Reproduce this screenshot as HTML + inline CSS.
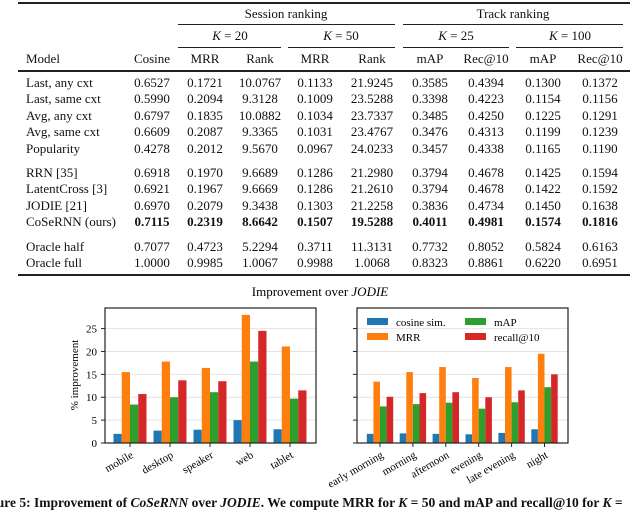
<!DOCTYPE html>
<html><head><meta charset="utf-8"><style>
body{margin:0;width:640px;height:510px;overflow:hidden;background:#fff;font-family:"Liberation Serif",serif;color:#111;position:relative}
.t{position:absolute;font-size:13px;white-space:nowrap;transform:translateX(-50%)}
.l{position:absolute;font-size:13px;white-space:nowrap}
.r{position:absolute;background:#222}
b{font-weight:bold}
</style></head><body>
<div id="tbl"></div>
<svg id="ch" width="640" height="510" style="position:absolute;left:0;top:0"></svg>
<div class="l" style="left:-22px;top:495px;font-weight:bold;font-size:13.5px">Figure 5: Improvement of <i>CoSeRNN</i> over <i>JODIE</i>. We compute MRR for <i>K</i> = 50 and mAP and recall@10 for <i>K</i> =</div>
<script>
const rows=[
["Last, any cxt","0.6527","0.1721","10.0767","0.1133","21.9245","0.3585","0.4394","0.1300","0.1372"],
["Last, same cxt","0.5990","0.2094","9.3128","0.1009","23.5288","0.3398","0.4223","0.1154","0.1156"],
["Avg, any cxt","0.6797","0.1835","10.0882","0.1034","23.7337","0.3485","0.4250","0.1225","0.1291"],
["Avg, same cxt","0.6609","0.2087","9.3365","0.1031","23.4767","0.3476","0.4313","0.1199","0.1239"],
["Popularity","0.4278","0.2012","9.5670","0.0967","24.0233","0.3457","0.4338","0.1165","0.1190"],
["RRN [35]","0.6918","0.1970","9.6689","0.1286","21.2980","0.3794","0.4678","0.1425","0.1594"],
["LatentCross [3]","0.6921","0.1967","9.6669","0.1286","21.2610","0.3794","0.4678","0.1422","0.1592"],
["JODIE [21]","0.6970","0.2079","9.3438","0.1303","21.2258","0.3836","0.4734","0.1450","0.1638"],
["CoSeRNN (ours)","0.7115","0.2319","8.6642","0.1507","19.5288","0.4011","0.4981","0.1574","0.1816"],
["Oracle half","0.7077","0.4723","5.2294","0.3711","11.3131","0.7732","0.8052","0.5824","0.6163"],
["Oracle full","1.0000","0.9985","1.0067","0.9988","1.0068","0.8323","0.8861","0.6220","0.6951"]];
const rowY=[83,99,116,132,149,173,189,206,222,247,263];
const colX=[26,152,205,260,315,372,430,486,543,600];
let h='';
function rule(x1,x2,y,t){h+=`<div class="r" style="left:${x1}px;width:${x2-x1}px;top:${y}px;height:${t}px"></div>`;}
rule(18,630,2,1.5);rule(178,395,24,1);rule(403,623,24,1);
rule(178,281,47,1);rule(288,395,47,1);rule(403,509,47,1);rule(516,623,47,1);
rule(18,630,70,1.5);rule(18,630,274,1.5);
function c(x,y,s,cls,n){h+=`<div class="${cls}" style="left:${x}px;top:${y-8}px">${s}</div>`;}
c(286,14,"Session ranking","t","session-ranking-header");c(513,14,"Track ranking","t","track-ranking-header");
c(230,36,"<i>K</i> = 20","t","k20-header");c(341,36,"<i>K</i> = 50","t","k50-header");c(456,36,"<i>K</i> = 25","t","k25-header");c(570,36,"<i>K</i> = 100","t","k100-header");
const hd=["Model","Cosine","MRR","Rank","MRR","Rank","mAP","Rec@10","mAP","Rec@10"];
hd.forEach((s,i)=>c(colX[i],59,s,i?"t":"l","column-header"));
rows.forEach((r,j)=>r.forEach((s,i)=>c(colX[i],rowY[j],j==8&&i?"<b>"+s+"</b>":s,i?"t":"l","table-cell")));
document.getElementById('tbl').innerHTML=h;
</script>
<script>
const colors=["#1f77b4","#ff7f0e","#2ca02c","#d62728"];
const seriesNames=["cosine sim.","MRR","mAP","recall@10"];
const devices=["mobile","desktop","speaker","web","tablet"];
const devCos=[2.0,2.7,2.9,5.0,3.0];
const devMRR=[15.5,17.8,16.4,28.0,21.1];
const devMAP=[8.4,10.0,11.1,17.8,9.7];
const devRec=[10.7,13.7,13.5,24.5,11.5];
const times=["early morning","morning","afternoon","evening","late evening","night"];
const timeCos=[2.0,2.1,2.0,1.9,2.2,3.0];
const timeMRR=[13.4,15.5,16.6,14.2,16.6,19.5];
const timeMAP=[8.0,8.5,8.8,7.5,8.9,12.2];
const timeRec=[10.1,10.9,11.1,10.0,11.5,15.0];
const yTicks=[0,5,10,15,20,25];
const svg=document.getElementById('ch');const NS="http://www.w3.org/2000/svg";
function el(t,a,name,txt){const e=document.createElementNS(NS,t);for(const k in a)e.setAttribute(k,a[k]);


if(txt!==undefined)e.textContent=txt;svg.appendChild(e);return e;}
const y0=443,yTop=308,yMax=29.5;
const ys=v=>y0-v*(y0-yTop)/yMax;
function panel(x1,x2,cats,series,first,spacing,bw,label){
  yTicks.forEach(t=>{if(t>0)el('line',{x1:x1,x2:x2,y1:ys(t),y2:ys(t),stroke:'#e4e4e4','stroke-width':1},'grid-line');
    el('line',{x1:x1-4,x2:x1,y1:ys(t),y2:ys(t),stroke:'#222'},'y-tick');
    if(label)el('text',{x:x1-8,y:ys(t)+4,'text-anchor':'end','font-size':11,'font-family':'Liberation Serif'},'y-tick-label',t);});
  cats.forEach((c,i)=>{const cx=first+i*spacing;
    series.forEach((s,k)=>{el('rect',{x:cx+(k-2)*bw,y:ys(s[i]),width:bw,height:y0-ys(s[i]),fill:colors[k]},'bar-'+c.replace(' ','-')+'-'+k);});
    el('line',{x1:cx,x2:cx,y1:y0,y2:y0+4,stroke:'#222'},'x-tick');
    el('text',{x:cx+4,y:y0+14,'text-anchor':'end','font-size':11,'font-family':'Liberation Serif',transform:`rotate(-30 ${cx+4} ${y0+14})`},'x-tick-label',c);});
  el('rect',{x:x1,y:yTop,width:x2-x1,height:y0-yTop,fill:'none',stroke:'#222','stroke-width':1.2},'axes-frame');
}
panel(105,316,devices,[devCos,devMRR,devMAP,devRec],130,40,8.25,true);
panel(357,568,times,[timeCos,timeMRR,timeMAP,timeRec],380,32.9,6.6,false);
el('text',{x:78,y:375,'text-anchor':'middle','font-size':11,'font-family':'Liberation Serif',transform:'rotate(-90 78 375)'},'y-axis-title','% improvement');
const tt=el('text',{x:320,y:296,'text-anchor':'middle','font-size':13,'font-family':'Liberation Serif'},'chart-title');
tt.innerHTML='Improvement over <tspan font-style="italic">JODIE</tspan>';
const lx=[367,465],ly=[322,337];
seriesNames.forEach((n,k)=>{const x=lx[k>>1],y=ly[k&1];
  el('rect',{x:x,y:y-4,width:21,height:7,fill:colors[k]},'legend-swatch');
  el('text',{x:x+29,y:y+4,'font-size':11,'font-family':'Liberation Serif'},'legend-entry',n);});
</script>
</body></html>
